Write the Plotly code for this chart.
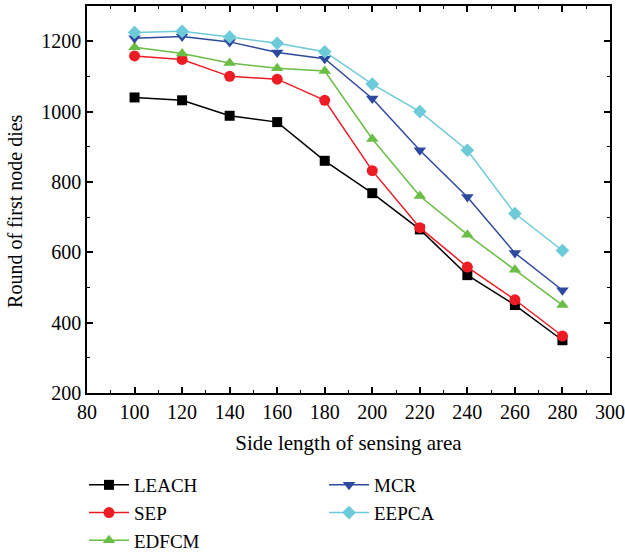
import plotly.graph_objects as go

side_length = [100, 120, 140, 160, 180, 200, 220, 240, 260, 280]

leach = [1040, 1032, 988, 970, 860, 768, 665, 535, 450, 350]
sep = [1158, 1148, 1100, 1092, 1032, 832, 670, 558, 465, 362]
edfcm = [1183, 1165, 1138, 1123, 1115, 922, 760, 650, 550, 450]
mcr = [1208, 1213, 1198, 1168, 1150, 1037, 890, 757, 598, 492]
eepca = [1225, 1228, 1212, 1194, 1170, 1078, 1000, 890, 710, 605]

series = [
    ("LEACH", leach, "#000000", "square", 10, "legend"),
    ("SEP", sep, "#ed1c24", "circle", 11, "legend"),
    ("EDFCM", edfcm, "#6abd45", "triangle-up", 11, "legend"),
    ("MCR", mcr, "#2e4a9e", "triangle-down", 11, "legend2"),
    ("EEPCA", eepca, "#6dcad8", "diamond", 10.5, "legend2"),
]

FONT = "Liberation Serif"

fig = go.Figure()
for name, vals, color, symbol, size, leg in series:
    fig.add_trace(go.Scatter(
        x=side_length, y=vals, name=name, mode="lines+markers",
        line=dict(color=color, width=1.5),
        marker=dict(symbol=symbol, size=size, color=color),
        legend=leg,
    ))

axis_common = dict(
    showline=True, linecolor="black", linewidth=1.5, mirror="allticks",
    ticks="inside", ticklen=6, tickwidth=1.5, tickcolor="black",
    showgrid=False, zeroline=False,
    tickfont=dict(family=FONT, size=20, color="black"),
)

legend_common = dict(
    xref="container", yref="container", xanchor="left", yanchor="top",
    bgcolor="rgba(0,0,0,0)", font=dict(family=FONT, size=19, color="black"),
    itemwidth=40,
)

fig.update_layout(
    width=625, height=552,
    margin=dict(l=87, r=15, t=6, b=159, autoexpand=False),
    paper_bgcolor="white", plot_bgcolor="white",
    font=dict(family=FONT, size=20, color="black"),
    xaxis=dict(
        range=[80, 300], dtick=20,
        minor=dict(dtick=10, ticks="inside", ticklen=3, tickwidth=1.2, tickcolor="black"),
        title=dict(text="Side length of sensing area", font=dict(family=FONT, size=21), standoff=14),
        **axis_common,
    ),
    yaxis=dict(
        range=[200, 1300], tickvals=[200, 400, 600, 800, 1000, 1200],
        minor=dict(dtick=100, ticks="inside", ticklen=3, tickwidth=1.2, tickcolor="black"),
        **axis_common,
    ),
    legend=dict(x=84 / 625, y=1 - 466 / 552, **legend_common),
    legend2=dict(x=324 / 625, y=1 - 466 / 552, **legend_common),
    annotations=[dict(
        text="Round of first node dies", textangle=-90, showarrow=False,
        xref="paper", yref="paper", x=-0.138, y=0.47,
        xanchor="center", yanchor="middle",
        font=dict(family=FONT, size=20, color="black"),
    )],
)

fig.write_html("out.html")
